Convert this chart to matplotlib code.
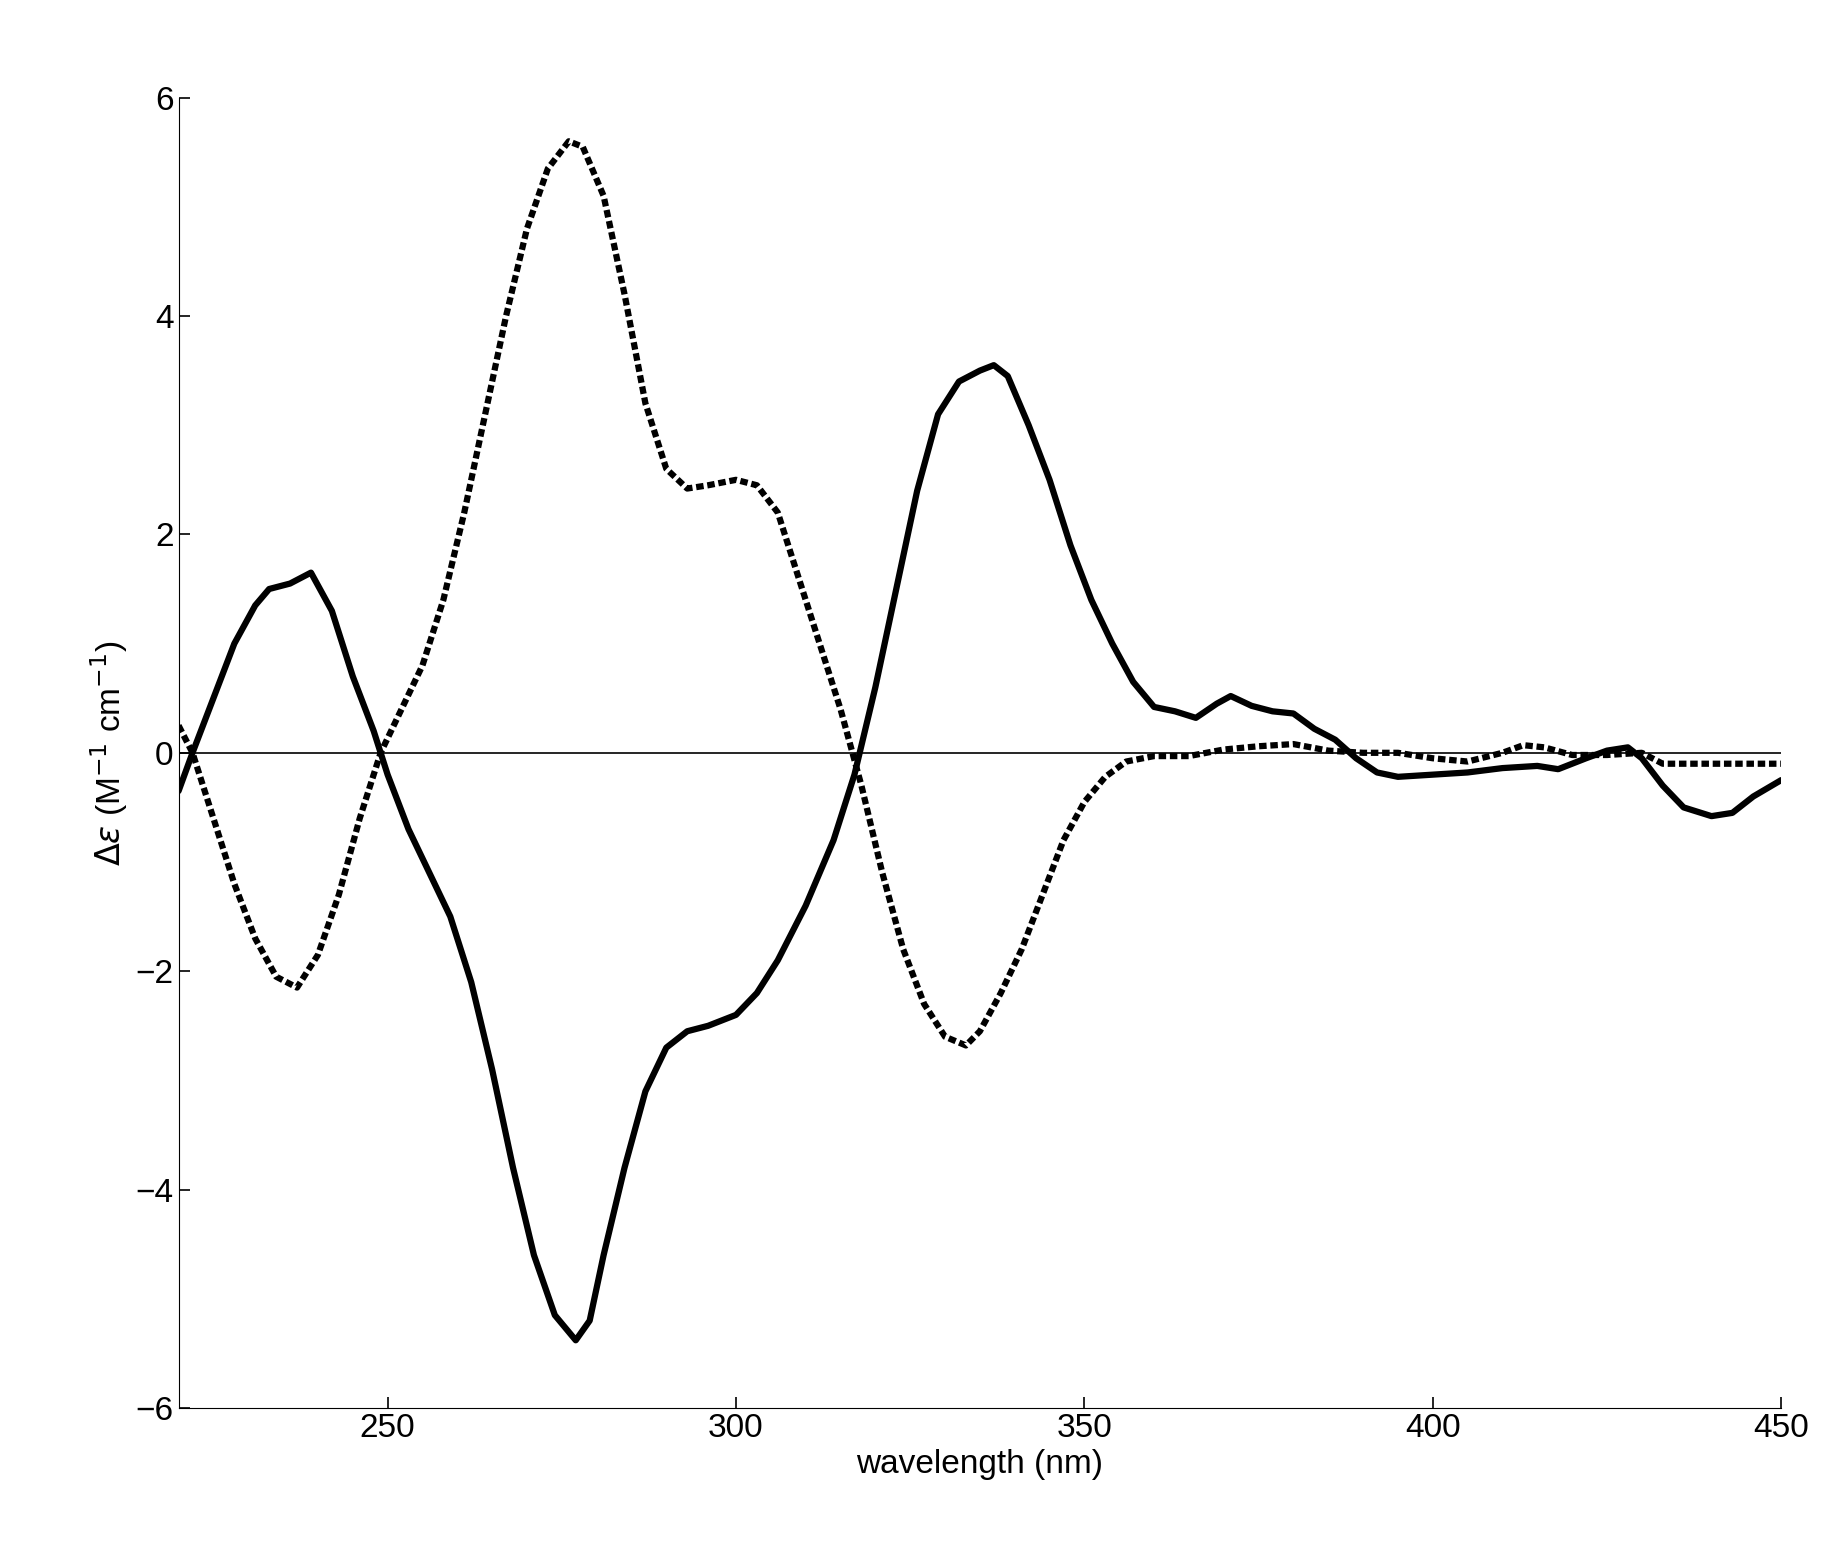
import matplotlib
matplotlib.use("Agg")
import matplotlib.pyplot as plt

wl_solid = [220,222,225,228,231,233,236,239,242,245,248,250,253,256,259,262,265,268,271,274,277,279,281,284,287,290,293,296,300,303,306,310,314,317,320,323,326,329,332,335,337,339,342,345,348,351,354,357,360,363,366,369,371,374,377,380,383,386,389,392,395,400,405,410,415,418,422,425,428,430,433,436,440,443,446,450]
de_solid = [-0.35,0,0.5,1.0,1.35,1.5,1.55,1.65,1.3,0.7,0.2,-0.2,-0.7,-1.1,-1.5,-2.1,-2.9,-3.8,-4.6,-5.15,-5.38,-5.2,-4.6,-3.8,-3.1,-2.7,-2.55,-2.5,-2.4,-2.2,-1.9,-1.4,-0.8,-0.2,0.6,1.5,2.4,3.1,3.4,3.5,3.55,3.45,3.0,2.5,1.9,1.4,1.0,0.65,0.42,0.38,0.32,0.45,0.52,0.43,0.38,0.36,0.22,0.12,-0.05,-0.18,-0.22,-0.2,-0.18,-0.14,-0.12,-0.15,-0.05,0.02,0.05,-0.05,-0.3,-0.5,-0.58,-0.55,-0.4,-0.25]
wl_dash = [220,222,225,228,231,234,237,240,243,246,249,252,255,258,261,264,267,270,273,276,278,281,284,287,290,293,296,300,303,306,309,312,315,318,321,324,327,330,333,335,338,341,344,347,350,353,356,360,365,370,375,380,385,390,395,400,405,410,413,416,420,425,430,433,440,450]
de_dash = [0.25,0,-0.6,-1.2,-1.7,-2.05,-2.15,-1.85,-1.3,-0.6,0.0,0.4,0.8,1.4,2.2,3.1,4.0,4.8,5.35,5.6,5.55,5.1,4.2,3.2,2.6,2.42,2.45,2.5,2.45,2.2,1.6,1.0,0.4,-0.3,-1.1,-1.8,-2.3,-2.6,-2.68,-2.55,-2.2,-1.8,-1.3,-0.8,-0.45,-0.22,-0.08,-0.03,-0.03,0.03,0.06,0.08,0.02,0.0,0.0,-0.05,-0.08,0.0,0.07,0.05,-0.02,-0.02,0.0,-0.1,-0.1,-0.1]

plt.rcParams['font.family'] = ['Liberation Sans', 'DejaVu Sans']
fig = plt.figure(figsize=(18.41, 15.62), dpi=100)
ax = fig.add_axes([0.097, 0.0986, 0.8705, 0.8389])
ax.axhline(0, color='black', lw=1.2)
ax.plot(wl_solid, de_solid, color='black', lw=4.5, solid_capstyle='round', solid_joinstyle='round')
ax.plot(wl_dash, de_dash, color='black', lw=4.5, linestyle=(0, (1.2, 0.6)))
ax.set_xlim(220, 450)
ax.set_ylim(-6, 6)
ax.set_xticks([250, 300, 350, 400, 450])
ax.set_yticks([-6, -4, -2, 0, 2, 4, 6])
ax.set_yticklabels(['\u22126', '\u22124', '\u22122', '0', '2', '4', '6'])
ax.spines['top'].set_visible(False)
ax.spines['right'].set_visible(False)
ax.tick_params(labelsize=24, direction='in', length=8, width=1.2)
ax.set_xlabel('wavelength (nm)', fontsize=24, labelpad=4)
ax.set_ylabel(r'$\Delta\varepsilon$ (M$^{-1}$ cm$^{-1}$)', fontsize=24)
fig.savefig('out.png', dpi=100)
